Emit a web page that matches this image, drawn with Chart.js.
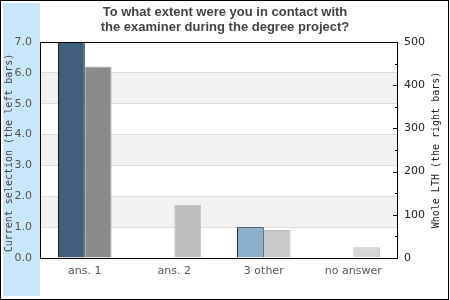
<!DOCTYPE html>
<html>
<head>
<meta charset="utf-8">
<script src="https://cdn.jsdelivr.net/npm/chart.js@4/dist/chart.umd.min.js"></script>
<style>
  body { margin: 0; background: #fff; }
  canvas { display: block; }
</style>
</head>
<body>
<canvas id="chart_1" width="450" height="300"></canvas>
<script>
const categories = ['ans. 1', 'ans. 2', '3 other', 'no answer'];
const currentSelection = [7, 0, 1, 0];
const wholeLTH = [443, 123, 65, 25];
const titleLines = ['To what extent were you in contact with', 'the examiner during the degree project?'];
const leftTitle = 'Current selection (the left bars)';
const rightTitle = 'Whole LTH (the right bars)';

const currentColors = ['#3f5f7a', '#3f5f7a', '#8eafc9', '#8eafc9'];
const wholeColors = ['#8a8a8a', '#bdbdbd', '#c9c9c9', '#d6d6d6'];
const wholeBorders = ['#aaaaaa', '#c6c6c6', '#bdbdbd', '#c4c4c4'];

// background, blue side panel, outer frame and grey bands
const backdrop = {
    id: 'backdrop',
    beforeDraw(chart) {
        const ctx = chart.ctx;
        const area = chart.chartArea;
        const y = chart.scales.y;
        ctx.save();
        ctx.fillStyle = '#fff';
        ctx.fillRect(0, 0, 450, 300);
        ctx.fillStyle = '#c8e6fc';
        ctx.fillRect(3, 3, 37, 293);
        ctx.fillStyle = '#000';
        ctx.fillRect(0, 0, 449, 1);
        ctx.fillRect(0, 299, 449, 1);
        ctx.fillRect(0, 0, 1, 300);
        ctx.fillRect(448, 0, 1, 300);
        ctx.fillStyle = '#f2f2f2';
        [[1, 2], [3, 4], [5, 6]].forEach(([a, b]) => {
            const top = y.getPixelForValue(b);
            const bot = y.getPixelForValue(a);
            ctx.fillRect(area.left, top, area.right - area.left, bot - top);
        });
        ctx.restore();
    },
    afterDatasetsDraw(chart) {
        const ctx = chart.ctx;
        const area = chart.chartArea;
        const y1 = chart.scales.y1;
        ctx.save();
        ctx.strokeStyle = '#000';
        ctx.lineWidth = 1;
        ctx.strokeRect(Math.round(area.left) + 0.5, Math.round(area.top) + 0.5,
            Math.round(area.right - area.left) - 1, Math.round(area.bottom - area.top));
        // inward ticks on the right axis
        ctx.beginPath();
        for (let v = 0; v <= 500; v += 50) {
            const py = Math.round(y1.getPixelForValue(v)) + 0.5;
            const len = v % 100 === 0 ? 5 : 3;
            ctx.moveTo(area.right - len, py);
            ctx.lineTo(area.right, py);
        }
        ctx.stroke();
        ctx.restore();
    },
    afterDraw(chart) {
        const ctx = chart.ctx;
        ctx.save();
        ctx.fillStyle = '#444';
        ctx.font = 'bold 13px "Liberation Sans", Arial, sans-serif';
        ctx.textAlign = 'center';
        ctx.textBaseline = 'middle';
        ctx.fillText(titleLines[0], 225, 12);
        ctx.fillText(titleLines[1], 225, 27);

        ctx.font = '10px "DejaVu Sans Mono", monospace';
        ctx.translate(9, 153);
        ctx.rotate(-Math.PI / 2);
        ctx.fillText(leftTitle, 0, 0);
        ctx.restore();

        ctx.save();
        ctx.fillStyle = '#222';
        ctx.font = '10px "DejaVu Sans Mono", monospace';
        ctx.textAlign = 'center';
        ctx.textBaseline = 'middle';
        ctx.translate(436, 150);
        ctx.rotate(-Math.PI / 2);
        ctx.fillText(rightTitle, 0, 0);
        ctx.restore();
    }
};

new Chart(document.getElementById('chart_1'), {
    type: 'bar',
    data: {
        labels: categories,
        datasets: [
            {
                label: 'Current selection',
                data: currentSelection,
                yAxisID: 'y',
                backgroundColor: currentColors,
                borderColor: '#000',
                borderWidth: 1
            },
            {
                label: 'Whole LTH',
                data: wholeLTH,
                yAxisID: 'y1',
                backgroundColor: wholeColors,
                borderColor: wholeBorders,
                borderWidth: 1
            }
        ]
    },
    options: {
        responsive: false,
        animation: false,
        categoryPercentage: 0.6,
        barPercentage: 1.0,
        layout: { padding: { top: 42, left: 0, right: 0, bottom: 0 } },
        plugins: {
            legend: { display: false },
            title: { display: false },
            tooltip: { enabled: false }
        },
        scales: {
            x: {
                grid: { display: false, drawTicks: false },
                border: { display: false },
                ticks: {
                    padding: 7,
                    color: '#555',
                    font: { family: 'DejaVu Sans', size: 11 }
                },
                afterFit: s => { s.height = 42; }
            },
            y: {
                position: 'left',
                min: 0,
                max: 7,
                grid: { color: '#dddddd', drawTicks: false },
                border: { display: false },
                ticks: {
                    stepSize: 1,
                    padding: 8,
                    color: '#555',
                    font: { family: 'DejaVu Sans', size: 11 },
                    callback: v => v.toFixed(1)
                },
                afterFit: s => { s.width = 40; }
            },
            y1: {
                position: 'right',
                min: 0,
                max: 500,
                grid: { drawOnChartArea: false, drawTicks: false },
                border: { display: false },
                ticks: {
                    stepSize: 100,
                    padding: 6,
                    color: '#222',
                    font: { family: 'DejaVu Sans', size: 11 }
                },
                afterFit: s => { s.width = 52; }
            }
        }
    },
    plugins: [backdrop]
});
</script>
</body>
</html>
